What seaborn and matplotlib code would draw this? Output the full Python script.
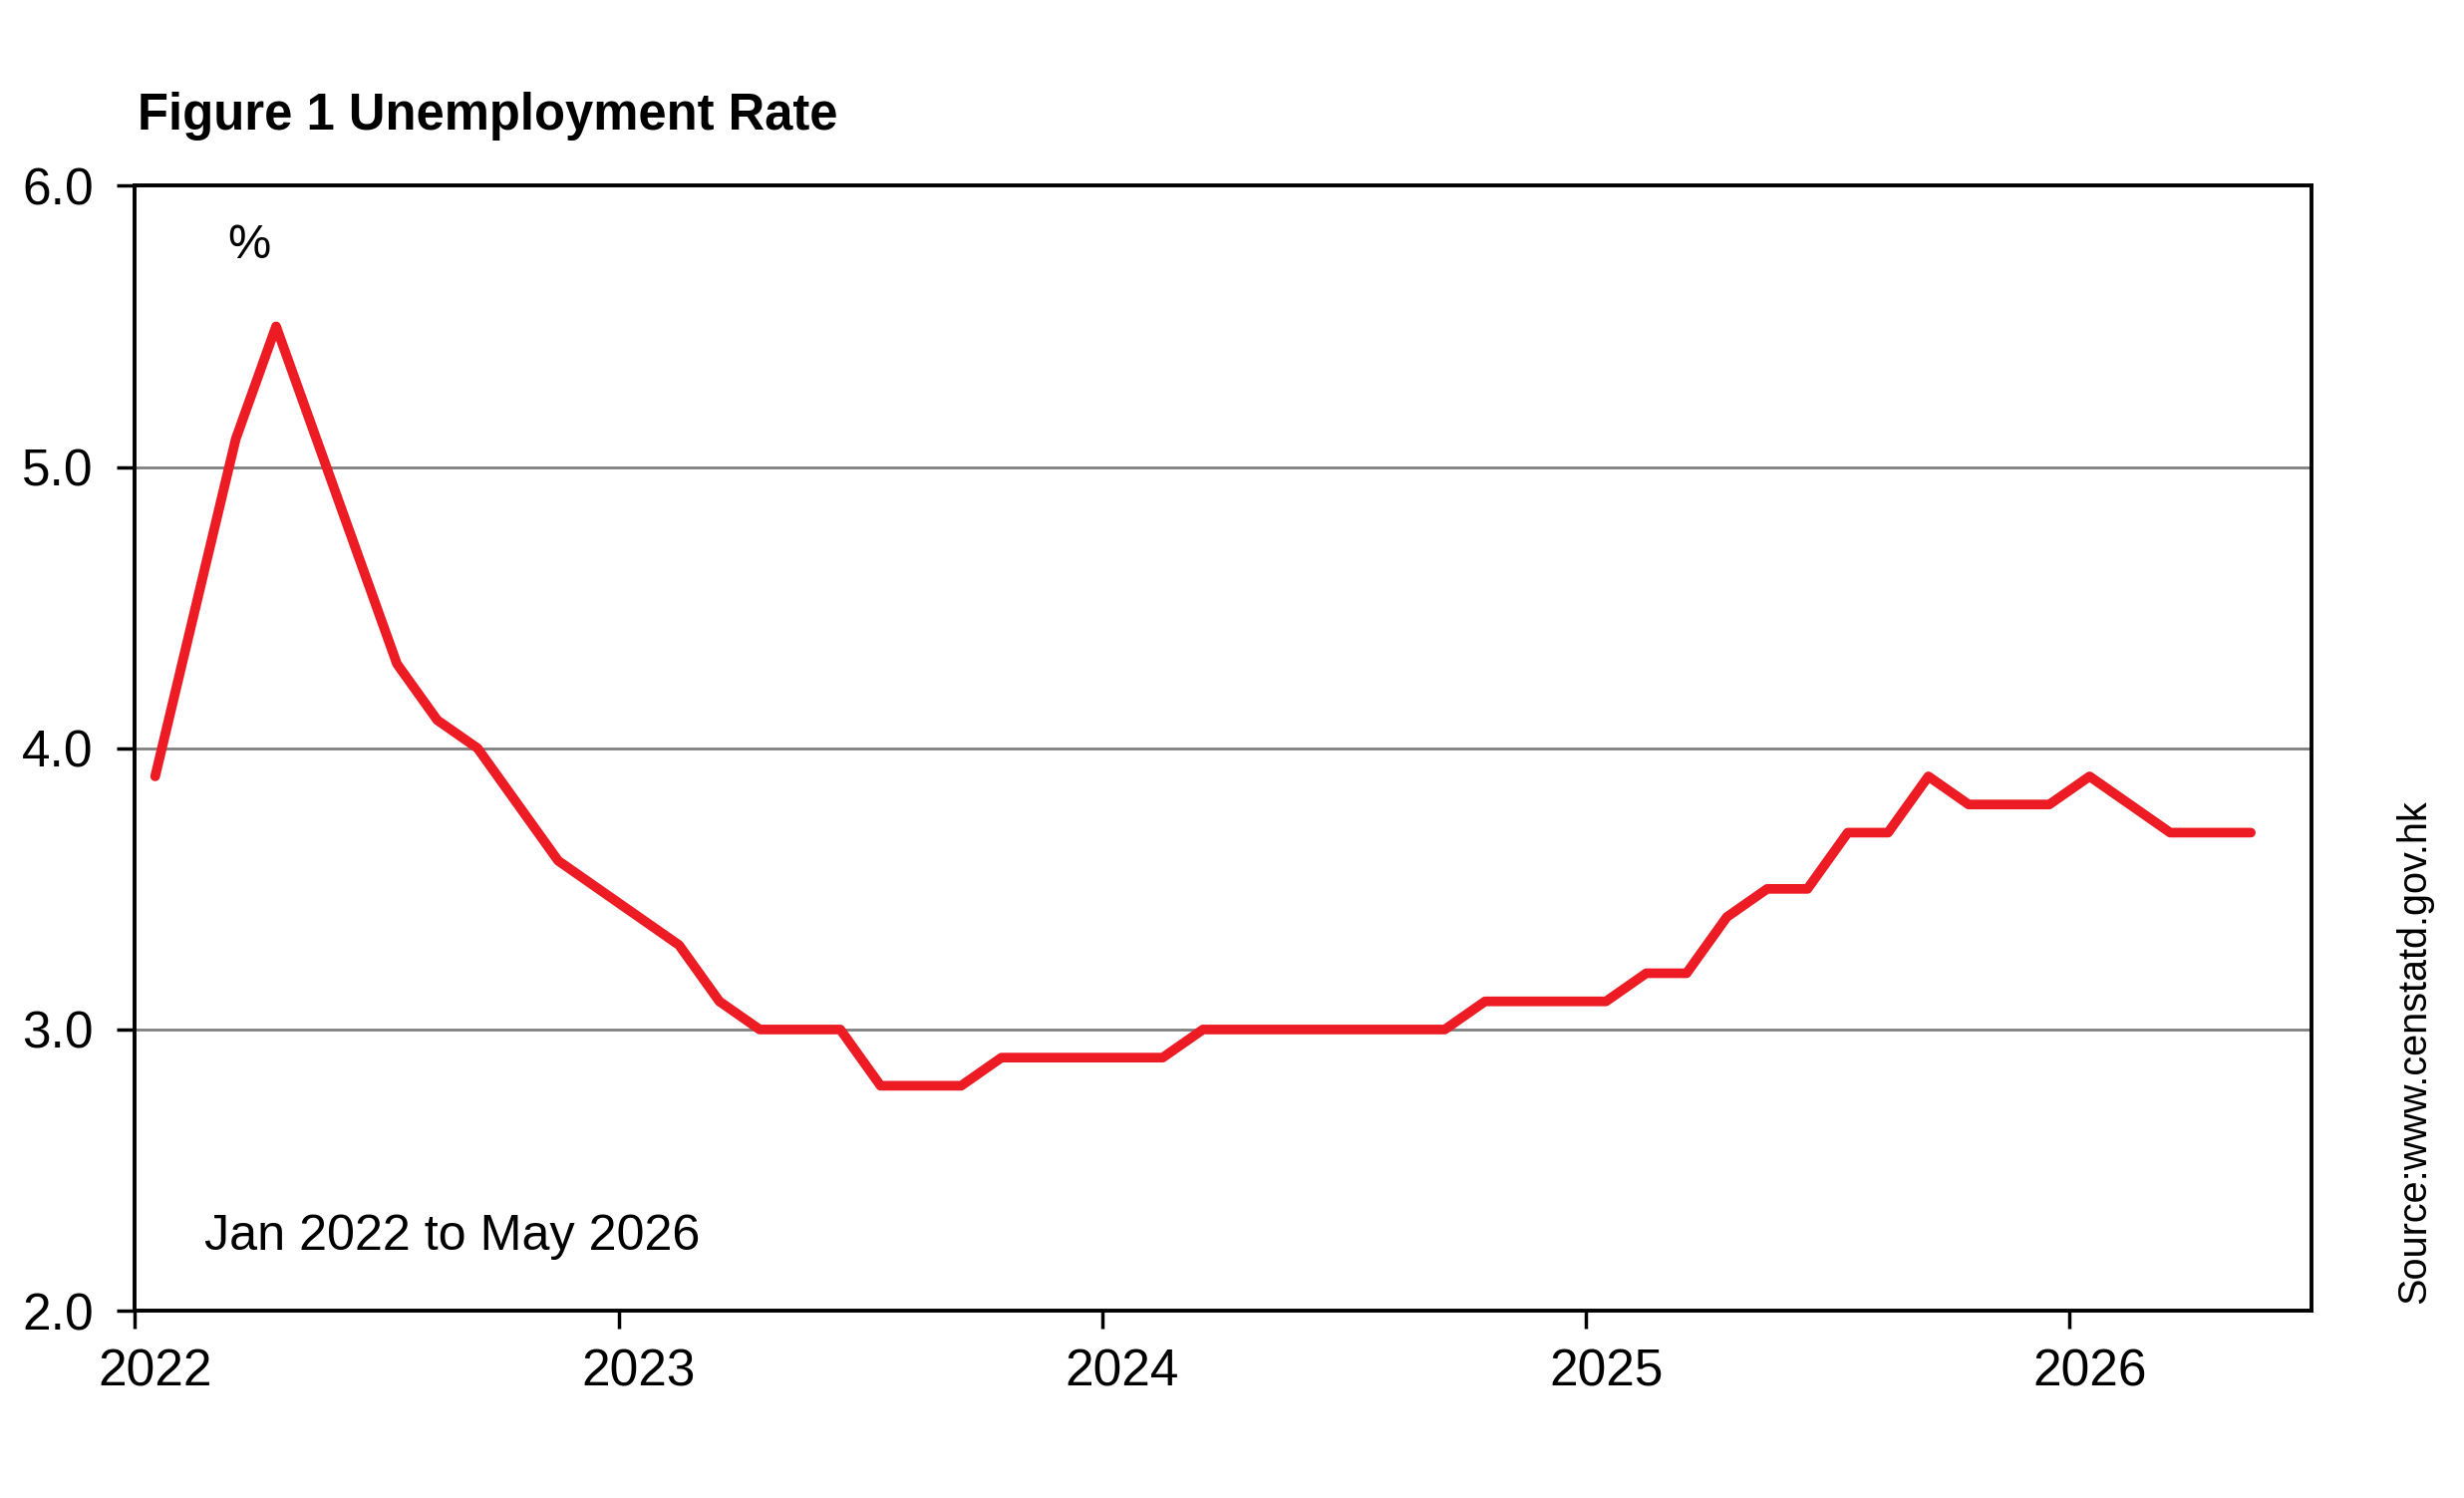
import numpy as np
import pandas as pd
import matplotlib
matplotlib.use("Agg")
import matplotlib.pyplot as plt
import seaborn as sns

# Monthly unemployment rate (%), Jan 2022 to May 2026
months = pd.date_range("2022-01-01", "2026-05-01", freq="MS")
rates = [
    3.9, 4.5, 5.1, 5.5, 5.1, 4.7, 4.3, 4.1, 4.0, 3.8, 3.6, 3.5,   # 2022
    3.4, 3.3, 3.1, 3.0, 3.0, 3.0, 2.8, 2.8, 2.8, 2.9, 2.9, 2.9,   # 2023
    2.9, 2.9, 3.0, 3.0, 3.0, 3.0, 3.0, 3.0, 3.0, 3.1, 3.1, 3.1,   # 2024
    3.1, 3.2, 3.2, 3.4, 3.5, 3.5, 3.7, 3.7, 3.9, 3.8, 3.8, 3.8,   # 2025
    3.9, 3.8, 3.7, 3.7, 3.7,                                     # 2026
]
year_ticks = [2022, 2023, 2024, 2025, 2026]
y_ticks = [2.0, 3.0, 4.0, 5.0, 6.0]
title = "Figure 1 Unemployment Rate"
period_note = "Jan 2022 to May 2026"
source_note = "Source:www.censtatd.gov.hk"

# position each monthly value at mid-month in decimal years
xpos = months.year + (months.month - 0.5) / 12.0
df = pd.DataFrame({"x": xpos, "rate": rates})

sns.set_theme(style="white")
plt.rcParams["font.family"] = ["Liberation Sans", "DejaVu Sans"]

fig = plt.figure(figsize=(24.72, 15.03), dpi=100)
ax = fig.add_axes([0.0548, 0.125, 0.938 - 0.0548, 0.876 - 0.125])

sns.lineplot(data=df, x="x", y="rate", ax=ax, color="#ED1C24", linewidth=7,
             solid_capstyle="round", solid_joinstyle="round", zorder=3)

ax.set_xlim(2022, 2026.5)
ax.set_ylim(2.0, 6.0)
# tick marks at year boundaries, labels centred on January
ax.set_xticks(year_ticks)
ax.set_xticklabels([])
ax.set_xticks([y + 0.5 / 12 for y in year_ticks], minor=True)
ax.set_xticklabels([str(y) for y in year_ticks], minor=True)
ax.set_yticks(y_ticks)
ax.set_yticklabels([f"{v:.1f}" for v in y_ticks])
ax.set_xlabel("")
ax.set_ylabel("")

for v in [3.0, 4.0, 5.0]:
    ax.axhline(v, color="#808080", linewidth=2.0, zorder=1)

for s in ax.spines.values():
    s.set_visible(True)
    s.set_color("black")
    s.set_linewidth(2.8)

ax.tick_params(axis="both", which="major", direction="out", length=13,
               width=2.5, color="black", labelsize=37, labelcolor="black")
ax.tick_params(axis="x", which="minor", length=0, labelsize=37,
               labelcolor="black", pad=27, bottom=True)
ax.tick_params(axis="x", which="major", bottom=True)
ax.tick_params(axis="y", pad=17, left=True)

fig.text(0.056, 0.9225, title, fontsize=36.5, fontweight="bold",
         ha="left", va="center", color="black")
fig.text(0.0925, 0.836, "%", fontsize=35, ha="left", va="center", color="black")
fig.text(0.083, 0.174, period_note, fontsize=36.2, ha="left", va="center", color="black")
fig.text(0.980, 0.130, source_note, fontsize=28.5, rotation=90,
         ha="center", va="bottom", color="black")

fig.savefig("out.png", dpi=100, facecolor="white")
